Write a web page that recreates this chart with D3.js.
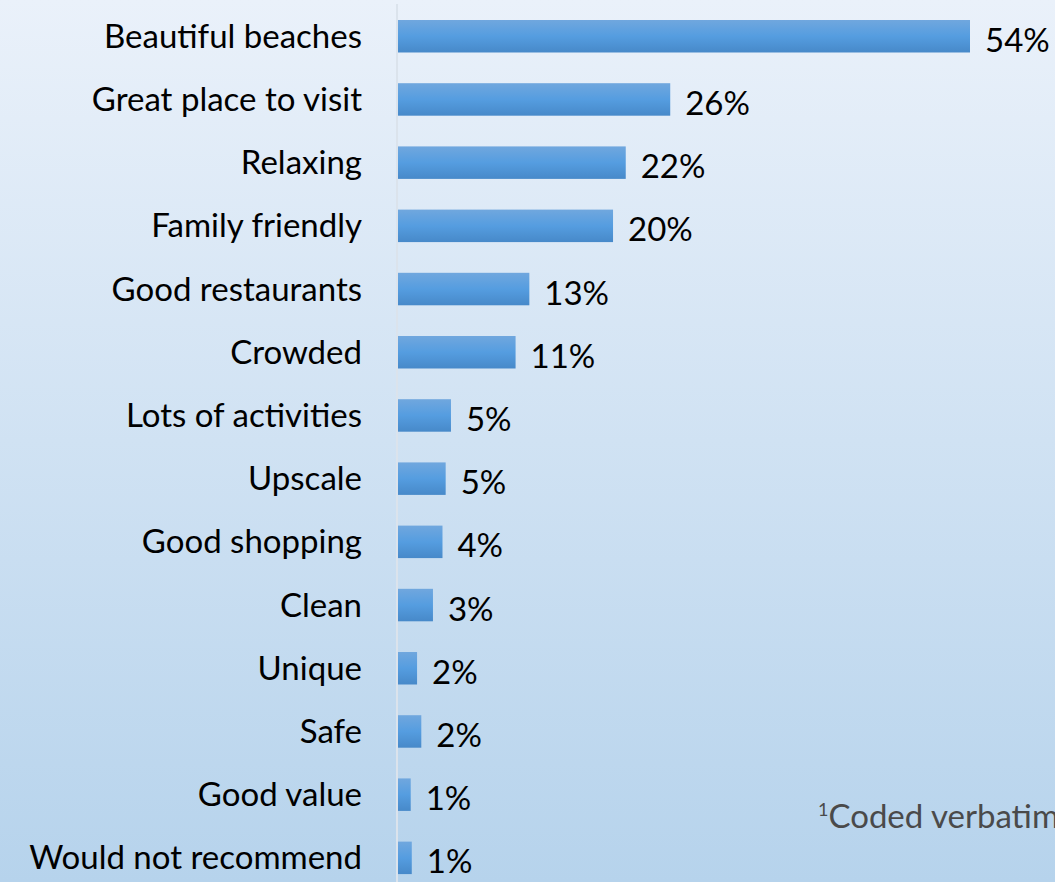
<!DOCTYPE html>
<html>
<head>
<meta charset="utf-8">
<script src="https://cdn.jsdelivr.net/npm/d3@7"></script>
<style>
  html, body { margin: 0; padding: 0; }
  body { width: 1055px; height: 882px; overflow: hidden; }
</style>
</head>
<body>
<div id="chartArea"></div>
<script>
// Data
const categories = ["Beautiful beaches", "Great place to visit", "Relaxing", "Family friendly",
    "Good restaurants", "Crowded", "Lots of activities", "Upscale", "Good shopping", "Clean",
    "Unique", "Safe", "Good value", "Would not recommend"];
const values = [54.0, 25.7, 21.5, 20.3, 12.4, 11.1, 5.0, 4.5, 4.2, 3.3, 1.8, 2.2, 1.2, 1.3];
const valueLabels = ["54%", "26%", "22%", "20%", "13%", "11%", "5%", "5%", "4%", "3%", "2%", "2%", "1%", "1%"];
const footnote = "Coded verbatim";

const width = 1055,
    height = 882,
    margin = { top: 4, left: 398, bottom: 0, right: 85 };

const rows = categories.map((c, i) => ({ name: c, value: values[i], label: valueLabels[i] }));

const svg = d3.select("#chartArea")
    .append("svg")
    .attr("width", width)
    .attr("height", height)
    .style("font-family", "Lato, 'Open Sans', sans-serif");

// Gradients
const defs = svg.append("defs");
const bg = defs.append("linearGradient").attr("id", "bg")
    .attr("x1", 0).attr("y1", 0).attr("x2", 0).attr("y2", 1);
bg.append("stop").attr("offset", "0%").attr("stop-color", "#eaf1fa");
bg.append("stop").attr("offset", "100%").attr("stop-color", "#b6d3ec");

const barGrad = defs.append("linearGradient").attr("id", "barGrad")
    .attr("x1", 0).attr("y1", 0).attr("x2", 0).attr("y2", 1);
barGrad.append("stop").attr("offset", "0%").attr("stop-color", "#70a7de");
barGrad.append("stop").attr("offset", "50%").attr("stop-color", "#559de0");
barGrad.append("stop").attr("offset", "100%").attr("stop-color", "#4789c9");

svg.append("rect")
    .attr("width", width)
    .attr("height", height)
    .attr("fill", "url(#bg)");

// Scales
const x = d3.scaleLinear()
    .domain([0, 54])
    .range([margin.left, 970]);

const y = d3.scaleBand()
    .domain(categories)
    .range([-11.6, 905.7])
    .paddingInner(0.486)
    .paddingOuter(0.5);

// Axis line
svg.append("line")
    .attr("x1", margin.left - 1)
    .attr("x2", margin.left - 1)
    .attr("y1", margin.top)
    .attr("y2", height)
    .attr("stroke", "#dbe3ec")
    .attr("stroke-width", 2);

// Bars
svg.append("g")
    .selectAll("rect")
    .data(rows)
    .join("rect")
    .attr("x", x(0))
    .attr("y", d => y(d.name))
    .attr("width", d => x(d.value) - x(0))
    .attr("height", y.bandwidth())
    .attr("fill", "url(#barGrad)");

// Category labels
svg.append("g")
    .selectAll("text")
    .data(rows)
    .join("text")
    .attr("x", 362)
    .attr("y", d => y(d.name) + y.bandwidth() / 2)
    .attr("dy", "0.35em")
    .attr("text-anchor", "end")
    .attr("fill", "#000")
    .style("font-size", "33px")
    .text(d => d.name);

// Value labels
svg.append("g")
    .selectAll("text")
    .data(rows)
    .join("text")
    .attr("x", d => x(d.value) + 15)
    .attr("y", d => y(d.name) + y.bandwidth() / 2 + 4)
    .attr("dy", "0.35em")
    .attr("fill", "#000")
    .style("font-size", "33px")
    .text(d => d.label);

// Footnote (runs off the right edge, as in the original slide)
const fn = svg.append("text")
    .attr("x", 818)
    .attr("y", 828)
    .attr("fill", "#4a4a4a")
    .style("font-size", "33px");
fn.append("tspan").attr("dy", "-12").style("font-size", "18px").text("1");
fn.append("tspan").attr("dy", "12").text(footnote);
</script>
</body>
</html>
